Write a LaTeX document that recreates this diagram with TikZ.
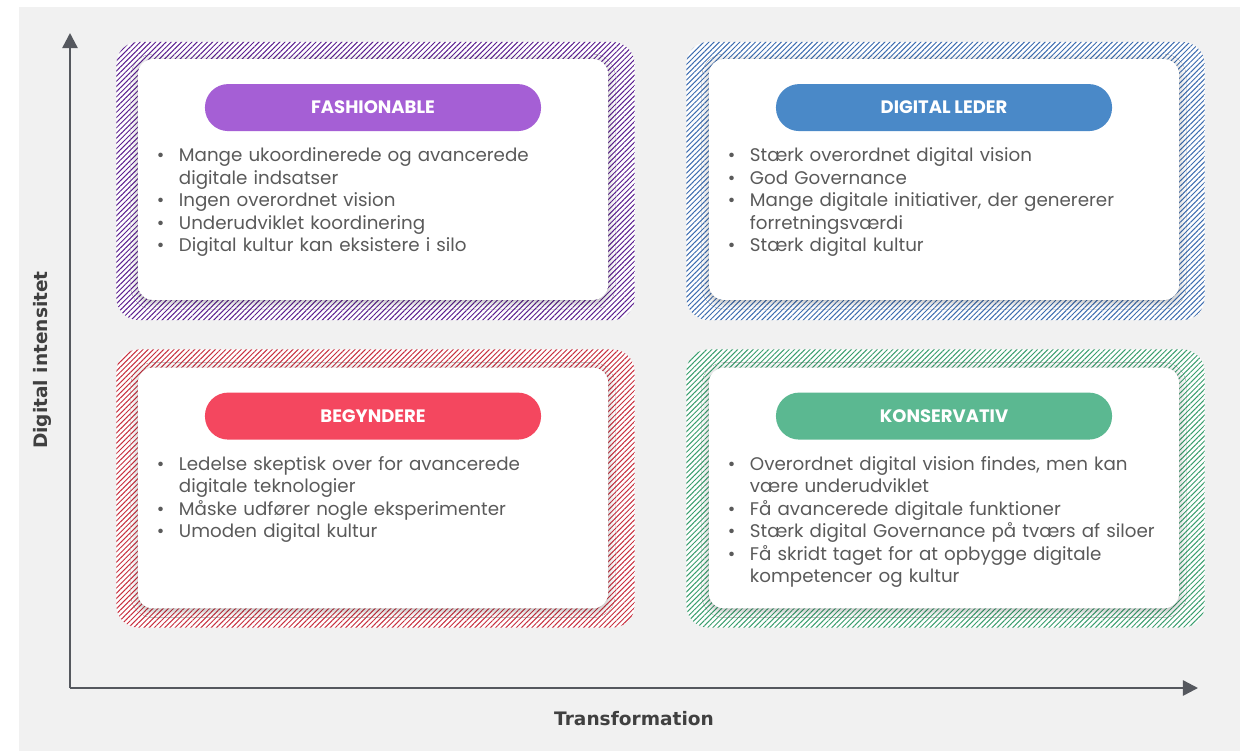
\documentclass[tikz,border=0pt]{standalone}
\usepackage{fontspec}
\setmainfont{Poppins}
\newfontfamily\axisfont{DejaVu Sans}
\usetikzlibrary{positioning, arrows.meta, patterns.meta, shadows.blur}

\definecolor{bggray}{HTML}{F1F1F1}
\definecolor{axisgray}{HTML}{55585E}
\definecolor{txtgray}{HTML}{5A5A5A}
\definecolor{fashpurple}{HTML}{A55FD5}
\definecolor{fashhatch}{HTML}{5C2090}
\definecolor{lederblue}{HTML}{4A89C8}
\definecolor{lederhatch}{HTML}{3D6DB0}
\definecolor{begred}{HTML}{F4475F}
\definecolor{beghatch}{HTML}{C8303F}
\definecolor{konsgreen}{HTML}{5BB891}
\definecolor{konshatch}{HTML}{3A9E6E}

% one bullet line, wrapped lines (\newline) hang under the text
\newcommand{\bul}[1]{\noindent\hangindent=0.55cm\hangafter=1\makebox[0.55cm][l]{\textbullet}#1\par}

\begin{document}
\begin{tikzpicture}[
      x=0.025cm, y=-0.025cm,
      hatchbox/.style={rectangle, rounded corners=0.55cm, fill=white, minimum width=12.95cm, minimum height=6.95cm,
        postaction={pattern={Lines[angle=45, distance=2.6pt, line width=0.7pt]}, pattern color=#1}},
      card/.style={rectangle, rounded corners=0.38cm, fill=white, minimum width=11.75cm, minimum height=6.02cm,
        blur shadow={shadow xshift=0pt, shadow yshift=-1.5pt, shadow blur radius=5pt, shadow opacity=30}},
      pill/.style={rectangle, rounded corners=0.58cm, fill=#1, text=white, minimum width=8.4cm, minimum height=1.175cm,
        font=\bfseries\fontsize{12.8}{14}\selectfont},
      items/.style={anchor=north west, text width=11cm, align=left, inner sep=0pt, text=txtgray,
        font=\fontsize{13}{16}\selectfont},
      axis/.style={line width=1.75pt, draw=axisgray, -{Triangle[length=0.38cm, width=0.38cm]}},
      axislabel/.style={font=\axisfont\bfseries\fontsize{13.2}{15}\selectfont, text=black!75}
    ]
      \useasboundingbox (0,0) rectangle (1240,751);
      \fill[bggray] (19,7) rectangle (1240,751);

      % axes
      \coordinate (origin) at (70,688);
      \coordinate (ytip) at (70,33);
      \coordinate (xtip) at (1198,688);
      \draw [axis] (origin) -- (ytip);
      \draw [axis] (origin) -- (xtip);
      \node (ylabel) [axislabel, rotate=90] at (42,360) {Digital intensitet};
      \node (xlabel) [axislabel] at (634,719) {Transformation};

      % top left
      \node (tlframe) [hatchbox=fashhatch] at (375.5,181) {};
      \node (tlcard) [card] at (373,179.5) {};
      \node (fashion) [pill=fashpurple, below=0.625cm of tlcard.north] {FASHIONABLE};
      \node (fashlist) [items] at ([xshift=-1.2cm, yshift=-0.4cm]fashion.south west) {%
        \bul{Mange ukoordinerede og avancerede\newline digitale indsatser}
        \bul{Ingen overordnet vision}
        \bul{Underudviklet koordinering}
        \bul{Digital kultur kan eksistere i silo}};

      % top right
      \node (trframe) [hatchbox=lederhatch] at (945.5,181) {};
      \node (trcard) [card] at (944,179.5) {};
      \node (leder) [pill=lederblue, below=0.625cm of trcard.north] {DIGITAL LEDER};
      \node (lederlist) [items] at ([xshift=-1.2cm, yshift=-0.4cm]leder.south west) {%
        \bul{Stærk overordnet digital vision}
        \bul{God Governance}
        \bul{Mange digitale initiativer, der genererer\newline forretningsværdi}
        \bul{Stærk digital kultur}};

      % bottom left
      \node (blframe) [hatchbox=beghatch] at (375.5,488.5) {};
      \node (blcard) [card] at (373,488) {};
      \node (begynd) [pill=begred, below=0.625cm of blcard.north] {BEGYNDERE};
      \node (begyndlist) [items] at ([xshift=-1.2cm, yshift=-0.4cm]begynd.south west) {%
        \bul{Ledelse skeptisk over for avancerede\newline digitale teknologier}
        \bul{Måske udfører nogle eksperimenter}
        \bul{Umoden digital kultur}};

      % bottom right
      \node (brframe) [hatchbox=konshatch] at (945.5,488.5) {};
      \node (brcard) [card] at (944,488) {};
      \node (konserv) [pill=konsgreen, below=0.625cm of brcard.north] {KONSERVATIV};
      \node (konservlist) [items] at ([xshift=-1.2cm, yshift=-0.4cm]konserv.south west) {%
        \bul{Overordnet digital vision findes, men kan\newline være underudviklet}
        \bul{Få avancerede digitale funktioner}
        \bul{Stærk digital Governance på tværs af siloer}
        \bul{Få skridt taget for at opbygge digitale\newline kompetencer og kultur}};
    \end{tikzpicture}
\end{document}
